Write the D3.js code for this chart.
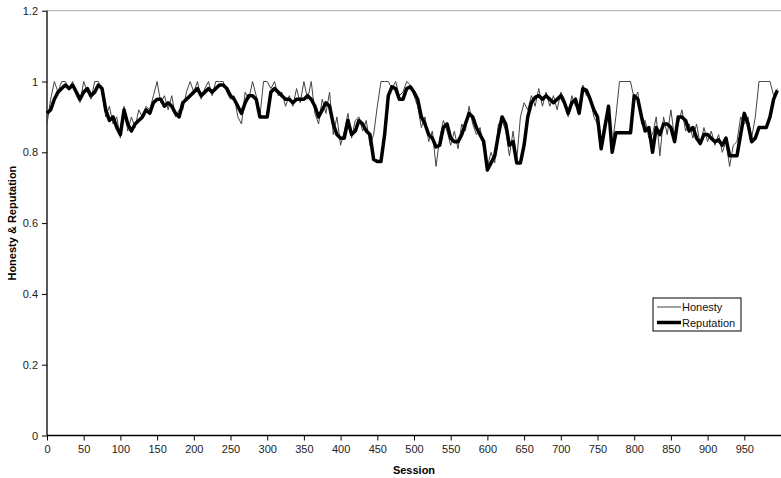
<!DOCTYPE html>
<html>
<head>
<meta charset="utf-8">
<script src="https://cdn.jsdelivr.net/npm/d3@7/dist/d3.min.js"></script>
<style>
  html, body { margin: 0; padding: 0; background: #fff; }
  svg { display: block; font-family: "Liberation Sans", Arial, sans-serif; }
</style>
</head>
<body>
<svg id="chart" width="781" height="478"></svg>
<script>
// Session sampling interval: one value every 5 sessions, sessions 0..995
const sessionStep = 5;

// Observed honesty of the agent per sampled session
const honesty = [
  0.88, 0.95, 1.00, 0.97, 1.00, 1.00, 0.98, 1.00, 0.96, 0.94,
  1.00, 0.97, 0.95, 1.00, 1.00, 0.97, 0.90, 0.93, 0.88, 0.90,
  0.84, 0.93, 0.86, 0.90, 0.87, 0.92, 0.90, 0.93, 0.92, 0.96,
  1.00, 0.94, 0.96, 0.92, 0.96, 0.90, 0.92, 0.92, 0.97, 1.00,
  0.97, 1.00, 0.95, 0.98, 1.00, 0.96, 1.00, 1.00, 1.00, 0.97,
  0.95, 0.96, 0.90, 0.88, 0.97, 0.95, 1.00, 0.96, 0.90, 1.00,
  1.00, 0.98, 1.00, 0.96, 0.97, 0.93, 0.96, 0.93, 0.98, 0.94,
  1.00, 0.95, 1.00, 0.91, 0.88, 0.95, 0.91, 0.97, 0.85, 0.90,
  0.82, 0.86, 0.91, 0.84, 0.89, 0.90, 0.86, 0.89, 0.82, 0.85,
  0.93, 1.00, 1.00, 1.00, 0.98, 1.00, 0.96, 0.97, 1.00, 0.99,
  0.96, 0.93, 0.87, 0.90, 0.83, 0.86, 0.76, 0.84, 0.89, 0.86,
  0.82, 0.86, 0.81, 0.88, 0.86, 0.93, 0.88, 0.85, 0.87, 0.81,
  0.76, 0.80, 0.77, 0.88, 0.89, 0.86, 0.79, 0.86, 0.78, 0.90,
  0.94, 0.92, 0.96, 0.93, 0.98, 0.93, 0.97, 0.93, 0.96, 0.92,
  0.97, 0.95, 0.90, 0.96, 0.93, 0.92, 0.99, 0.96, 0.96, 0.90,
  0.88, 0.83, 0.89, 0.91, 0.82, 0.90, 1.00, 1.00, 1.00, 1.00,
  0.95, 0.97, 0.88, 0.89, 0.84, 0.85, 0.90, 0.79, 0.90, 0.85,
  0.92, 0.84, 0.88, 0.92, 0.86, 0.88, 0.84, 0.88, 0.82, 0.87,
  0.83, 0.86, 0.82, 0.85, 0.80, 0.83, 0.76, 0.82, 0.83, 0.90,
  0.88, 0.90, 0.84, 0.90, 1.00, 1.00, 1.00, 1.00, 0.96, 0.98
];

// Reputation estimated by the system per sampled session
const reputation = [
  0.91, 0.92, 0.95, 0.97, 0.98, 0.99, 0.98, 0.99, 0.97, 0.95,
  0.97, 0.98, 0.96, 0.97, 0.99, 0.98, 0.92, 0.89, 0.90, 0.87,
  0.85, 0.92, 0.88, 0.86, 0.88, 0.89, 0.90, 0.92, 0.91, 0.94,
  0.95, 0.95, 0.93, 0.94, 0.93, 0.91, 0.90, 0.94, 0.95, 0.96,
  0.97, 0.98, 0.96, 0.97, 0.98, 0.97, 0.98, 0.99, 0.99, 0.98,
  0.96, 0.95, 0.93, 0.91, 0.94, 0.96, 0.96, 0.95, 0.90, 0.90,
  0.90, 0.97, 0.98, 0.97, 0.96, 0.95, 0.95, 0.94, 0.95, 0.95,
  0.95, 0.96, 0.95, 0.93, 0.90, 0.92, 0.94, 0.93, 0.88, 0.85,
  0.84, 0.84, 0.89, 0.85, 0.86, 0.89, 0.88, 0.86, 0.85, 0.78,
  0.774, 0.774, 0.85, 0.96, 0.985, 0.98, 0.95, 0.95, 0.98, 0.985,
  0.97, 0.95, 0.90, 0.88, 0.85, 0.84, 0.815, 0.82, 0.87, 0.88,
  0.84, 0.83, 0.83, 0.85, 0.88, 0.91, 0.90, 0.87, 0.85, 0.83,
  0.75, 0.77, 0.79, 0.85, 0.90, 0.88, 0.82, 0.83, 0.77, 0.77,
  0.82, 0.90, 0.94, 0.955, 0.96, 0.95, 0.96, 0.95, 0.94, 0.95,
  0.96, 0.94, 0.91, 0.94, 0.95, 0.91, 0.98, 0.975, 0.95, 0.92,
  0.90, 0.81, 0.87, 0.93, 0.80, 0.855, 0.855, 0.855, 0.855, 0.855,
  0.96, 0.95, 0.90, 0.86, 0.87, 0.80, 0.87, 0.85, 0.88, 0.88,
  0.87, 0.83, 0.90, 0.90, 0.89, 0.86, 0.87, 0.84, 0.825, 0.85,
  0.85, 0.84, 0.83, 0.835, 0.82, 0.84, 0.79, 0.79, 0.79, 0.85,
  0.91, 0.88, 0.83, 0.84, 0.87, 0.87, 0.87, 0.90, 0.95, 0.975
];

const xTicks = d3.range(0, 1000, 50);          // 0, 50, ..., 950
const yTicks = [0, 0.2, 0.4, 0.6, 0.8, 1, 1.2];
const seriesNames = ["Honesty", "Reputation"];

const svg = d3.select("#chart");
const plotLeft = 47, plotRight = 781, plotTop = 10.7, plotBottom = 435.5;

const x = d3.scaleLinear().domain([0, 1000]).range([plotLeft, plotRight]);
const y = d3.scaleLinear().domain([0, 1.2]).range([plotBottom, plotTop]);

// Top frame line at the maximum of the value axis
svg.append("line")
  .attr("x1", plotLeft).attr("x2", plotRight)
  .attr("y1", y(1.2)).attr("y2", y(1.2))
  .attr("stroke", "#aaa").attr("stroke-width", 1);

// Value axis
const yAxis = svg.append("g")
  .attr("transform", `translate(${plotLeft},0)`)
  .call(d3.axisLeft(y).tickValues(yTicks).tickSize(5).tickPadding(4)
    .tickFormat(d => String(+d.toFixed(1))));
// Session axis
const xAxis = svg.append("g")
  .attr("transform", `translate(0,${plotBottom})`)
  .call(d3.axisBottom(x).tickValues(xTicks).tickSize(5).tickPadding(5));

[xAxis, yAxis].forEach(g => {
  g.select(".domain").attr("stroke", "#000").attr("stroke-width", 1.3);
  g.selectAll(".tick line").attr("stroke", "#000").attr("stroke-width", 1);
  g.selectAll(".tick text").attr("fill", "#222").style("font-size", "11px")
    .style("font-family", "'Liberation Sans', Arial, sans-serif");
});
// Plain axis lines without end caps
xAxis.select(".domain").attr("d", `M${plotLeft},0H${plotRight}`);
yAxis.select(".domain").attr("d", `M0,${plotBottom}V${plotTop}`);

const line = d3.line()
  .x((d, i) => x(i * sessionStep))
  .y(d => y(d));

svg.append("path")
  .datum(honesty)
  .attr("fill", "none")
  .attr("stroke", "#444")
  .attr("stroke-width", 1)
  .attr("d", line);

svg.append("path")
  .datum(reputation)
  .attr("fill", "none")
  .attr("stroke", "#000")
  .attr("stroke-width", 3.5)
  .attr("stroke-linejoin", "round")
  .attr("d", line);

// Axis titles
svg.append("text")
  .attr("x", (plotLeft + plotRight) / 2).attr("y", 474)
  .attr("text-anchor", "middle")
  .style("font-size", "11px").style("font-weight", "bold")
  .text("Session");

svg.append("text")
  .attr("transform", `translate(16,${(plotTop + plotBottom) / 2}) rotate(-90)`)
  .attr("text-anchor", "middle")
  .style("font-size", "11px").style("font-weight", "bold")
  .text("Honesty & Reputation");

// Legend
const legend = svg.append("g").attr("transform", "translate(653,298)");
legend.append("rect")
  .attr("width", 88).attr("height", 33)
  .attr("fill", "#fff").attr("stroke", "#000").attr("stroke-width", 1);
const widths = [1, 3.5];
const strokes = ["#444", "#000"];
seriesNames.forEach((name, i) => {
  const yy = 9 + i * 15.5;
  legend.append("line")
    .attr("x1", 4).attr("x2", 28).attr("y1", yy).attr("y2", yy)
    .attr("stroke", strokes[i]).attr("stroke-width", widths[i]);
  legend.append("text")
    .attr("x", 29).attr("y", yy + 4)
    .style("font-size", "11px").attr("fill", "#111")
    .text(name);
});
</script>
</body>
</html>
